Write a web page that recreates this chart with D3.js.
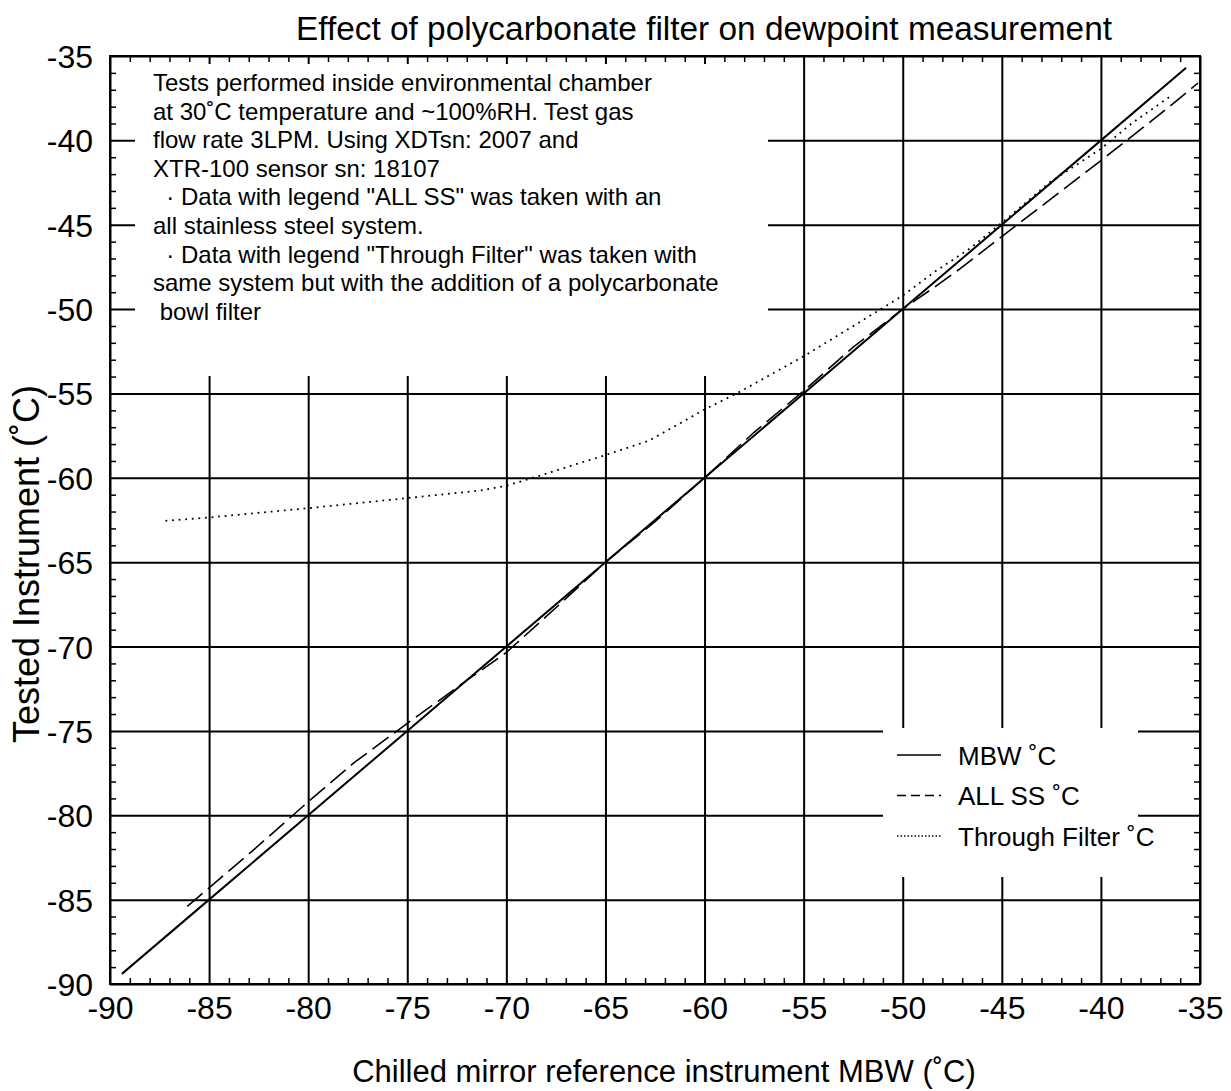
<!DOCTYPE html>
<html><head><meta charset="utf-8">
<script src="https://cdn.jsdelivr.net/npm/d3@7"></script>
<style>
html,body{margin:0;padding:0;background:#fff;}
text{font-family:"Liberation Sans",Arial,Helvetica,sans-serif;fill:#000;}
</style></head><body>
<svg id="chart" width="1231" height="1091"></svg>
<script>
// ---- data ----
const xTickValues = [-90,-85,-80,-75,-70,-65,-60,-55,-50,-45,-40,-35];
const yTickValues = [-90,-85,-80,-75,-70,-65,-60,-55,-50,-45,-40,-35];
const seriesNames = ["MBW \u02DAC", "ALL SS \u02DAC", "Through Filter \u02DAC"];
const mbwX = [-89.4,-85,-80,-75,-70,-65,-60,-55,-50,-45,-40,-35.7];
const mbwY = [-89.4,-85,-80,-75,-70,-65,-60,-55,-50,-45,-40,-35.7];
const allssX = [-86.1,-85,-82.8,-80,-77.7,-75,-73.4,-72,-71.5,-70,-67.5,-65,-62.5,-60,-57.5,-55,-52.5,-50,-48.4,-47.1,-45,-43,-40,-36.7,-35.1];
const allssY = [-85.4,-84.3,-82.1,-79.2,-76.9,-74.55,-73.2,-72.0,-71.6,-70.35,-67.7,-65.0,-62.6,-60.0,-57.3,-54.85,-52.25,-50.0,-48.7,-47.6,-45.7,-43.9,-41.2,-38.15,-36.6];
const filterX = [-87.2,-85,-80,-75,-71.3,-70,-68.4,-65,-62.8,-60,-58.3,-55,-51.1,-50,-48.4,-46.6,-44.6,-42.6,-40,-38.4,-36.5];
const filterY = [-62.55,-62.35,-61.8,-61.2,-60.75,-60.47,-59.9,-58.65,-57.8,-55.95,-54.95,-52.8,-50.0,-49.2,-47.8,-46.4,-44.5,-42.5,-40.5,-38.95,-37.4];
const titleText = "Effect of polycarbonate filter on dewpoint measurement";
const xLabel = "Chilled mirror reference instrument MBW (\u02DAC)";
const yLabel = "Tested Instrument (\u02DAC)";
const noteLines = [
  "Tests performed inside environmental chamber",
  "at 30\u02DAC temperature and ~100%RH. Test gas",
  "flow rate 3LPM. Using XDTsn: 2007 and",
  "XTR-100 sensor sn: 18107",
  "  \u00B7 Data with legend \"ALL SS\" was taken with an",
  "all stainless steel system.",
  "  \u00B7 Data with legend \"Through Filter\" was taken with",
  "same system but with the addition of a polycarbonate",
  " bowl filter"
];

// ---- layout ----
const svg = d3.select("#chart");
const L = 110, R = 1200, T = 56, B = 984;
const x = d3.scaleLinear().domain([-90,-35]).range([L,R]);
const y = d3.scaleLinear().domain([-90,-35]).range([B,T]);
const minorX = d3.range(-90,-34,1).filter(v=>v%5!==0);
const minorY = d3.range(-90,-34,1).filter(v=>v%5!==0);
const fmt = d => String(d);

// gridlines
const grid = svg.append("g");
grid.append("g").attr("transform",`translate(0,${B})`)
  .call(d3.axisBottom(x).tickValues(xTickValues).tickSize(-(B-T)).tickFormat(""))
  .call(g=>g.select(".domain").remove())
  .call(g=>g.selectAll("line").attr("stroke","#000").attr("stroke-width",2));
grid.append("g").attr("transform",`translate(${L},0)`)
  .call(d3.axisLeft(y).tickValues(yTickValues).tickSize(-(R-L)).tickFormat(""))
  .call(g=>g.select(".domain").remove())
  .call(g=>g.selectAll("line").attr("stroke","#000").attr("stroke-width",2));

// minor ticks (inward on all four sides)
function minor(g){ g.select(".domain").remove(); g.selectAll("line").attr("stroke","#000").attr("stroke-width",1.5); }
svg.append("g").attr("transform",`translate(0,${B})`).call(d3.axisBottom(x).tickValues(minorX).tickSize(-6).tickFormat("")).call(minor);
svg.append("g").attr("transform",`translate(0,${T})`).call(d3.axisTop(x).tickValues(minorX).tickSize(-6).tickFormat("")).call(minor);
svg.append("g").attr("transform",`translate(${L},0)`).call(d3.axisLeft(y).tickValues(minorY).tickSize(-6).tickFormat("")).call(minor);
svg.append("g").attr("transform",`translate(${R},0)`).call(d3.axisRight(y).tickValues(minorY).tickSize(-6).tickFormat("")).call(minor);

// note box (white, covers gridlines)
svg.append("rect").attr("x",135).attr("y",64).attr("width",633).attr("height",312).attr("fill","#fff");
const note = svg.append("text").attr("font-size",24).attr("xml:space","preserve").style("white-space","pre");
noteLines.forEach((s,i)=>{
  note.append("tspan").attr("x",153).attr("y",91+i*28.6).text(s);
});

// legend box
svg.append("rect").attr("x",883).attr("y",728).attr("width",255).attr("height",149).attr("fill","#fff");

// frame
svg.append("rect").attr("x",L).attr("y",T).attr("width",R-L).attr("height",B-T)
  .attr("fill","none").attr("stroke","#000").attr("stroke-width",2);

// axis tick labels
svg.append("g").attr("transform",`translate(0,${B})`)
  .call(d3.axisBottom(x).tickValues(xTickValues).tickSize(0).tickPadding(10).tickFormat(fmt))
  .call(g=>g.select(".domain").remove())
  .call(g=>g.selectAll("text").attr("font-size",32).attr("dy","0.78em").style("font-family","'Liberation Sans',Arial,sans-serif"));
svg.append("g").attr("transform",`translate(${L},0)`)
  .call(d3.axisLeft(y).tickValues(yTickValues).tickSize(0).tickPadding(17).tickFormat(fmt))
  .call(g=>g.select(".domain").remove())
  .call(g=>g.selectAll("text").attr("font-size",32).attr("dy","0.36em").style("font-family","'Liberation Sans',Arial,sans-serif"));

// series
const line = d3.line().x(d=>x(d[0])).y(d=>y(d[1]));
const zip = (a,b)=>a.map((v,i)=>[v,b[i]]);
svg.append("path").datum(zip(mbwX,mbwY)).attr("d",line).attr("fill","none").attr("stroke","#000").attr("stroke-width",2);
svg.append("path").datum(zip(allssX,allssY)).attr("d",line).attr("fill","none").attr("stroke","#000").attr("stroke-width",1.6).attr("stroke-dasharray","20,7");
svg.append("path").datum(zip(filterX,filterY)).attr("d",line).attr("fill","none").attr("stroke","#000").attr("stroke-width",1.8).attr("stroke-dasharray","1.8,4.8");

// legend
const dashes = [null,"9,5","1.5,2"];
seriesNames.forEach((n,i)=>{
  const cy = 755 + i*40.5;
  svg.append("line").attr("x1",897).attr("x2",941).attr("y1",cy).attr("y2",cy)
    .attr("stroke","#000").attr("stroke-width",1.6).attr("stroke-dasharray",dashes[i]);
  svg.append("text").attr("x",958).attr("y",cy+9.5).attr("font-size",26).text(n);
});

// titles
svg.append("text").attr("x",704).attr("y",40).attr("text-anchor","middle").attr("font-size",33.4).text(titleText);
svg.append("text").attr("x",664).attr("y",1082).attr("text-anchor","middle").attr("font-size",31).text(xLabel);
svg.append("text").attr("transform","translate(39,564) rotate(-90)").attr("text-anchor","middle").attr("font-size",36).text(yLabel);
</script></body></html>
